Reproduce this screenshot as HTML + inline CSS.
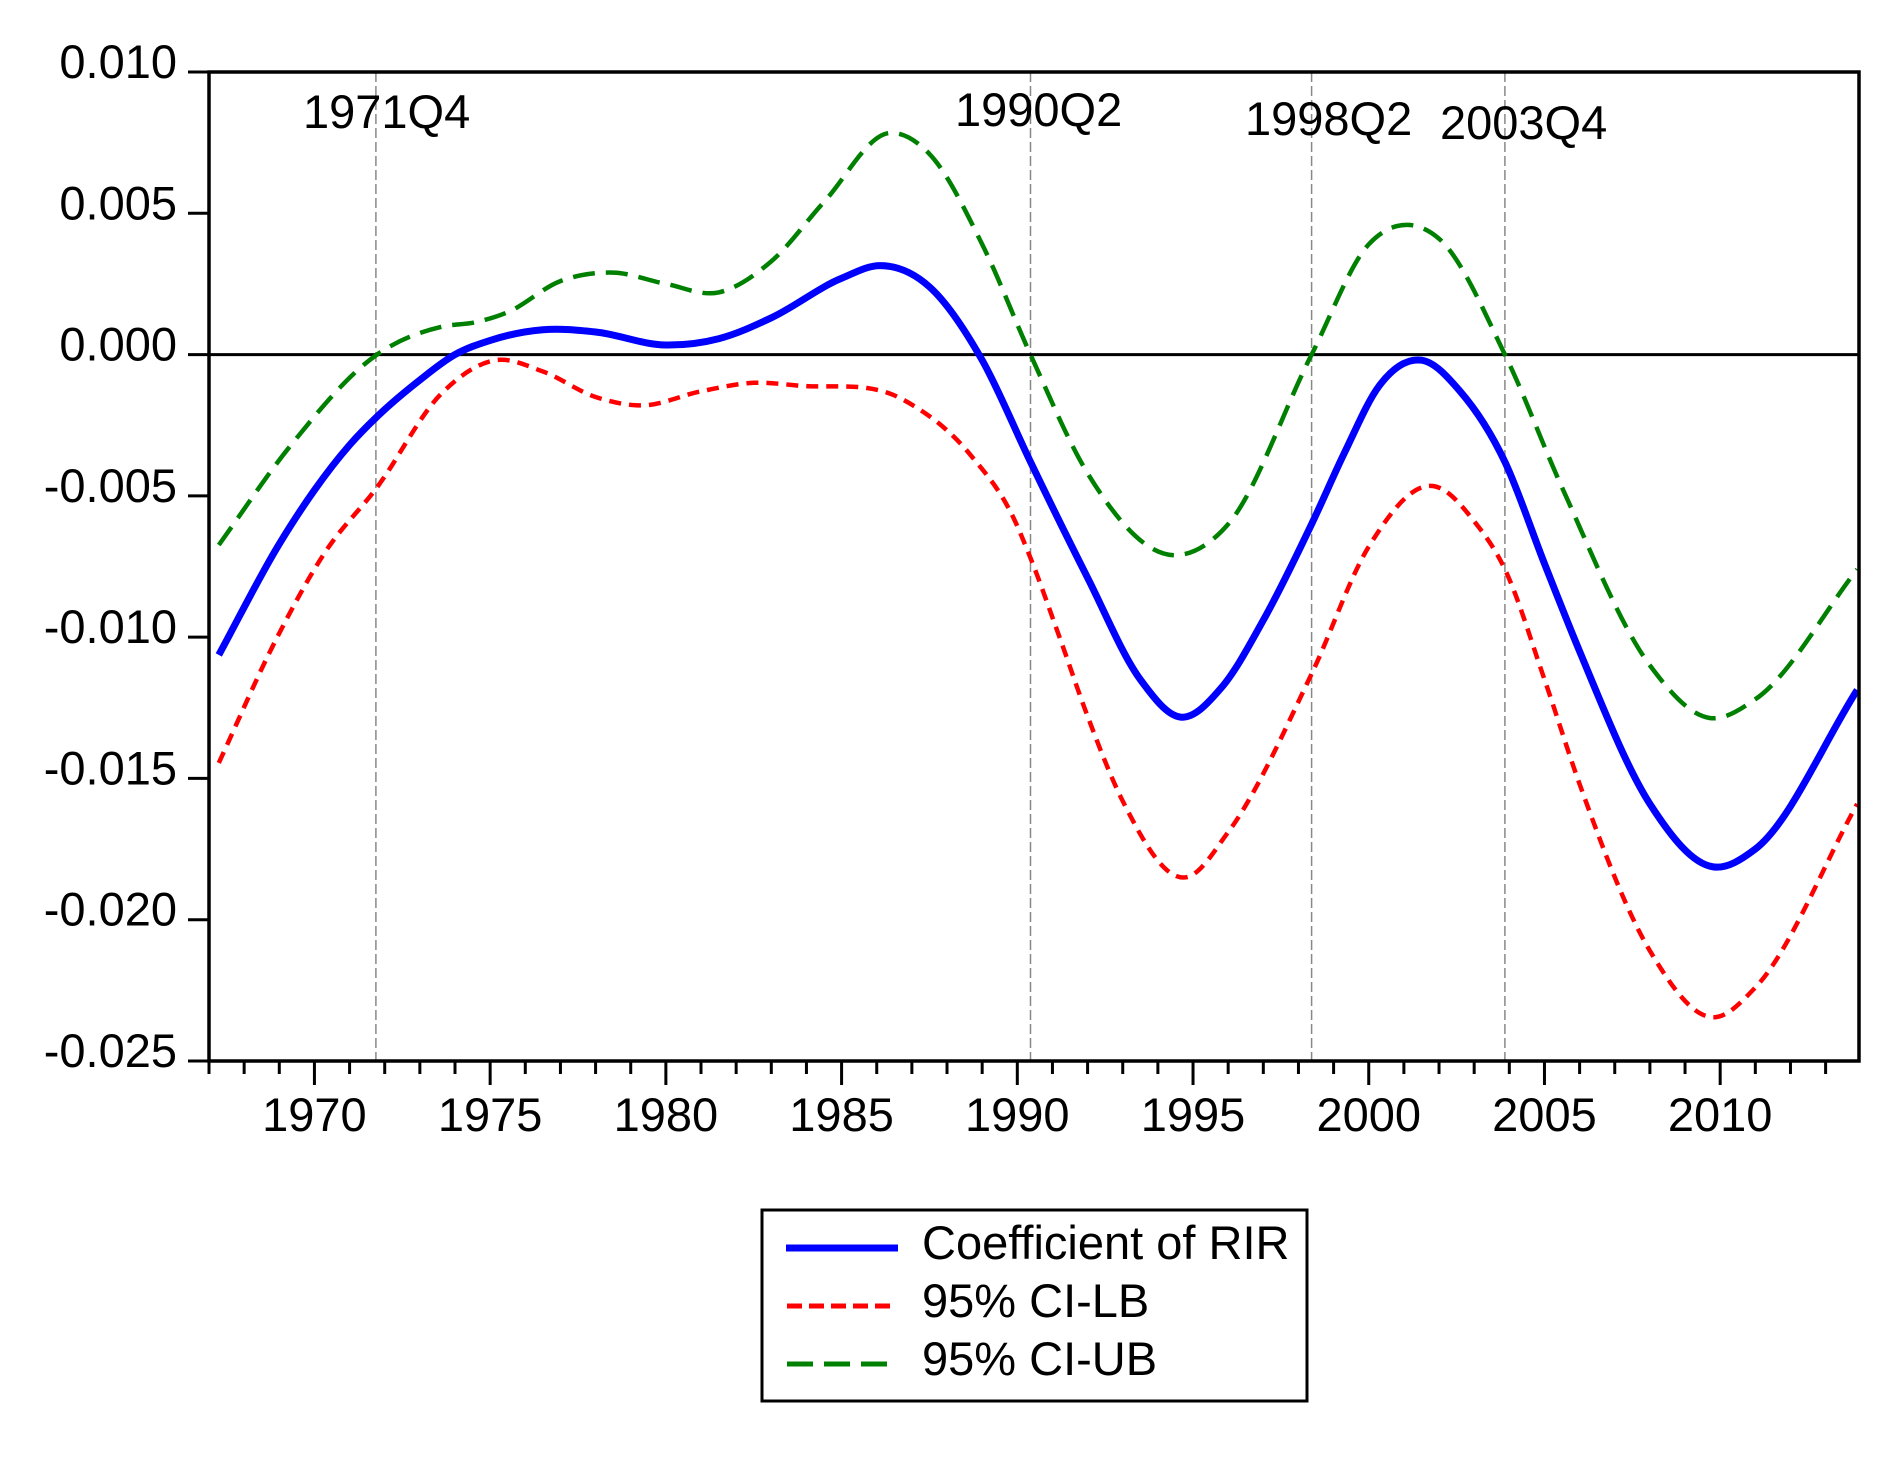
<!DOCTYPE html>
<html><head><meta charset="utf-8"><style>
html,body{margin:0;padding:0;background:#fff;}
svg{display:block;font-family:"Liberation Sans",Arial,sans-serif;}
</style></head><body>
<svg id="s" width="1904" height="1462" xmlns="http://www.w3.org/2000/svg">
<rect width="1904" height="1462" fill="#fff"/>
<g id="g"></g>
</svg>
<script>
const L=209,R=1859,T=72,B=1061;
const x0=1967.0,x1=2013.95;
const X=y=>L+(y-x0)*(R-L)/(x1-x0);
const Y=v=>T+(0.010-v)/0.035*(B-T);
let h='';
const FS=47;
[[1971.75,'1971Q4',303,128],[1990.375,'1990Q2',955,126],[1998.375,'1998Q2',1245,135],[2003.875,'2003Q4',1440,139]].forEach(e=>{
 const x=X(e[0]).toFixed(1);
 h+=`<line x1="${x}" y1="${T}" x2="${x}" y2="${B}" stroke="#888" stroke-width="1.5" stroke-dasharray="10,4"/>`;
 h+=`<text x="${e[2]}" y="${e[3]}" font-size="${FS}">${e[1]}</text>`;
});
h+=`<line x1="${L}" y1="${Y(0)}" x2="${R}" y2="${Y(0)}" stroke="#000" stroke-width="3"/>`;
for(let i=0;i<=7;i++){const v=0.010-i*0.005;const y=Y(v);
 h+=`<line x1="188" y1="${y}" x2="${L}" y2="${y}" stroke="#000" stroke-width="3"/>`;
 h+=`<text x="177" y="${y+6}" font-size="${FS}" text-anchor="end">${v.toFixed(3).replace('-0.000','0.000')}</text>`;}
for(let yr=1967;yr<=2013;yr++){const x=X(yr);const maj=yr%5==0;
 h+=`<line x1="${x}" y1="${B}" x2="${x}" y2="${maj?1085:1074}" stroke="#000" stroke-width="3"/>`;
 if(maj)h+=`<text x="${x}" y="1131" font-size="${FS}" text-anchor="middle">${yr}</text>`;}
function path(p){const n=p.length;const m=[];
 for(let i=0;i<n;i++){
  if(i==0){m.push((p[1][1]-p[0][1])/(p[1][0]-p[0][0]));continue;}
  if(i==n-1){m.push((p[i][1]-p[i-1][1])/(p[i][0]-p[i-1][0]));continue;}
  const h0=p[i][0]-p[i-1][0],h1=p[i+1][0]-p[i][0];
  const d0=(p[i][1]-p[i-1][1])/h0,d1=(p[i+1][1]-p[i][1])/h1;
  m.push((d0*h1+d1*h0)/(h0+h1));}
 let d='M'+X(p[0][0]).toFixed(1)+','+Y(p[0][1]).toFixed(1);
 for(let i=0;i<n-1;i++){const dx=p[i+1][0]-p[i][0];
  const c1x=p[i][0]+dx/3,c1y=p[i][1]+m[i]*dx/3,c2x=p[i+1][0]-dx/3,c2y=p[i+1][1]-m[i+1]*dx/3;
  d+=`C${X(c1x).toFixed(1)},${Y(c1y).toFixed(1)} ${X(c2x).toFixed(1)},${Y(c2y).toFixed(1)} ${X(p[i+1][0]).toFixed(1)},${Y(p[i+1][1]).toFixed(1)}`;}
 return d;}
const blue=[[1967.28,-0.01063],[1969,-0.0067],[1970,-0.0048],[1971,-0.0032],[1971.78,-0.0022],[1973,-0.0009],[1974,0],[1975,0.0005],[1976.5,0.00088],[1978,0.0008],[1980,0.00034],[1981.5,0.00056],[1983,0.0013],[1985,0.0027],[1986.1,0.00315],[1987.5,0.0024],[1989,-0.0002],[1990.375,-0.0038],[1992,-0.0079],[1993.5,-0.0115],[1994.65,-0.01283],[1995.8,-0.0118],[1997,-0.0094],[1998.375,-0.006],[1999.3,-0.0035],[2000.3,-0.0011],[2001.5,-0.0002],[2002.6,-0.0013],[2003.875,-0.0038],[2005,-0.0074],[2006,-0.0105],[2008,-0.0159],[2009.8,-0.01813],[2011,-0.0175],[2013.9,-0.01187]];
const green=[[1967.28,-0.00674],[1969.27,-0.0033],[1971.78,0],[1973.6,0.00098],[1974.6,0.00115],[1975.5,0.0015],[1977,0.0026],[1978.5,0.0029],[1980,0.0025],[1981.5,0.0022],[1983,0.0033],[1984.5,0.0054],[1986.37,0.00784],[1987.5,0.0071],[1989,0.0039],[1990.375,0],[1992,-0.0042],[1994.54,-0.0071],[1996,-0.006],[1998.375,0],[2000,0.0039],[2001.1,0.00459],[2002,0.0041],[2003.875,0],[2005.5,-0.0047],[2008,-0.011],[2009.7,-0.01286],[2011,-0.0122],[2013.9,-0.0076]];
const red=[[1967.28,-0.01445],[1968.9,-0.0101],[1970.3,-0.0070],[1971.78,-0.0047],[1973.6,-0.0014],[1975.15,-0.0002],[1976.5,-0.0006],[1978,-0.0015],[1979.3,-0.0018],[1981,-0.0013],[1982.5,-0.001],[1983.8,-0.0011],[1986.76,-0.0016],[1988.7,-0.0036],[1989.9,-0.0058],[1990.375,-0.0072],[1991.2,-0.0100],[1992,-0.0128],[1993,-0.0158],[1994.8,-0.0185],[1996,-0.0169],[1998.375,-0.0113],[2000,-0.0068],[2001.9,-0.00467],[2003,-0.0059],[2003.875,-0.0076],[2005,-0.0115],[2006,-0.0152],[2008,-0.0211],[2009.85,-0.02345],[2011,-0.0224],[2013.9,-0.0159]];
h+=`<path d="${path(green)}" fill="none" stroke="#008000" stroke-width="4.5" stroke-dasharray="22,11"/>`;
h+=`<path d="${path(red)}" fill="none" stroke="#ff0000" stroke-width="4.5" stroke-dasharray="12,8"/>`;
h+=`<path d="${path(blue)}" fill="none" stroke="#0000ff" stroke-width="7"/>`;
h+=`<rect x="${L}" y="${T}" width="${R-L}" height="${B-T}" fill="none" stroke="#000" stroke-width="3.5"/>`;
h+=`<rect x="762" y="1210" width="545" height="191" fill="#fff" stroke="#000" stroke-width="3"/>`;
h+=`<line x1="786" y1="1248" x2="898" y2="1248" stroke="#0000ff" stroke-width="7"/>`;
h+=`<line x1="787" y1="1306" x2="897" y2="1306" stroke="#ff0000" stroke-width="5" stroke-dasharray="15,7"/>`;
h+=`<line x1="787" y1="1364" x2="897" y2="1364" stroke="#008000" stroke-width="5" stroke-dasharray="26,11"/>`;
h+=`<text x="922" y="1259" font-size="${FS}">Coefficient of RIR</text>`;
h+=`<text x="922" y="1317" font-size="${FS}">95% CI-LB</text>`;
h+=`<text x="922" y="1375" font-size="${FS}">95% CI-UB</text>`;
document.getElementById('g').innerHTML=h;
</script>
</body></html>
